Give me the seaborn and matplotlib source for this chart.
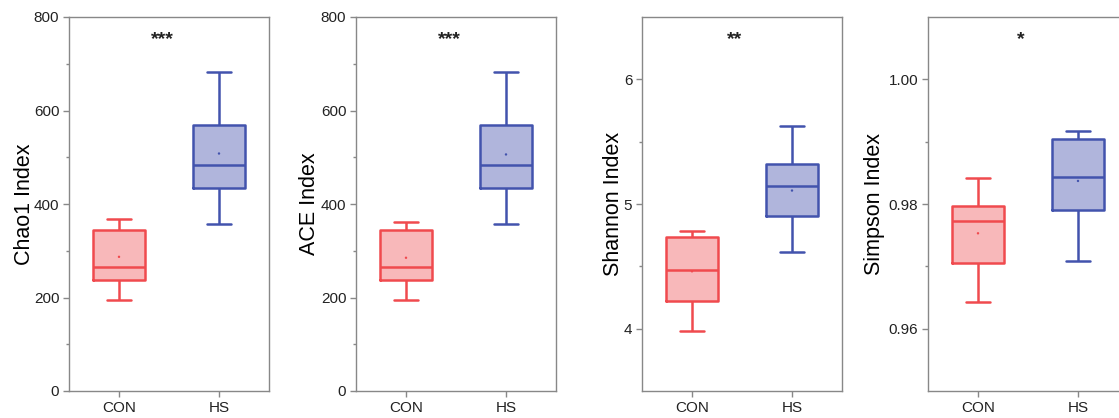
import seaborn as sns
import matplotlib.pyplot as plt
import pandas as pd

# Groups and box statistics
# each list: whisker min, Q1, median, Q3, whisker max
groups = ['CON', 'HS']

chao1_con = [194, 237, 265, 344, 367]
chao1_hs = [358, 435, 483, 570, 682]
chao1_mean = [287, 508]

ace_con = [194, 237, 265, 344, 362]
ace_hs = [358, 435, 483, 568, 683]
ace_mean = [285, 506]

shannon_con = [3.98, 4.225, 4.47, 4.736, 4.787]
shannon_hs = [4.613, 4.90, 5.143, 5.32, 5.628]
shannon_mean = [4.46, 5.108]

simpson_con = [0.9642, 0.9706, 0.9773, 0.9797, 0.9841]
simpson_hs = [0.9709, 0.9791, 0.9843, 0.9904, 0.9917]
simpson_mean = [0.9753, 0.9837]

labels = ['Chao1 Index', 'ACE Index', 'Shannon Index', 'Simpson Index']
stars = ['***', '***', '**', '*']
ylims = [(0, 800), (0, 800), (3.5, 6.5), (0.95, 1.01)]
major_ticks = [[0, 200, 400, 600, 800], [0, 200, 400, 600, 800],
               [4, 5, 6], [0.96, 0.98, 1.00]]
minor_ticks = [[100, 300, 500, 700], [100, 300, 500, 700],
               [4.5, 5.5], [0.97, 0.99]]
tick_fmt = ['{:.0f}', '{:.0f}', '{:.0f}', '{:.2f}']

edge_colors = {'CON': '#f04a4e', 'HS': '#4253ad'}
fill_colors = {'CON': '#f8b8ba', 'HS': '#b0b5dc'}

panels = [(chao1_con, chao1_hs, chao1_mean),
          (ace_con, ace_hs, ace_mean),
          (shannon_con, shannon_hs, shannon_mean),
          (simpson_con, simpson_hs, simpson_mean)]

sns.set_style('ticks')
plt.rcParams['font.family'] = ['Liberation Sans', 'DejaVu Sans']

fig = plt.figure(figsize=(11.19, 4.18), dpi=100)
W, H = 1119, 418
lefts = [69, 356, 642, 928]
label_x = [-0.17, -0.182, -0.09, -0.215]

for i, (con, hs, means) in enumerate(panels):
    ax = fig.add_axes([lefts[i] / W, 27 / H, 200 / W, 374 / H])
    df = pd.DataFrame({'group': ['CON'] * len(con) + ['HS'] * len(hs),
                       'value': con + hs})

    # filled boxes first, then the outlines on top
    sns.boxplot(data=df, x='group', y='value', hue='group', order=groups,
                palette=fill_colors, saturation=1, width=0.52, whis=(0, 100),
                linewidth=0, showcaps=False, legend=False, ax=ax)
    sns.boxplot(data=df, x='group', y='value', hue='group', order=groups,
                palette=edge_colors, saturation=1, width=0.52, whis=(0, 100),
                fill=False, linewidth=1.8, capwidths=0.24, legend=False, ax=ax)
    sns.scatterplot(x=groups, y=means, hue=groups, palette=edge_colors,
                    s=3, linewidth=0, legend=False, ax=ax, zorder=5)

    ax.set_xlim(-0.5, 1.5)
    ax.set_ylim(*ylims[i])
    ax.set_yticks(major_ticks[i])
    ax.set_yticklabels([tick_fmt[i].format(t) for t in major_ticks[i]])
    ax.set_yticks(minor_ticks[i], minor=True)
    ax.set_xlabel('')
    ax.set_ylabel(labels[i], fontsize=15.5, color='black')
    ax.yaxis.set_label_coords(label_x[i], 0.5)

    for s in ax.spines.values():
        s.set_visible(True)
        s.set_color('#888888')
        s.set_linewidth(1.0)
    ax.tick_params(axis='both', which='major', direction='out', length=4,
                   width=1, color='#888888', labelsize=11,
                   labelcolor='#222222', pad=3)
    ax.tick_params(axis='y', which='minor', direction='out', length=2.5,
                   width=1, color='#888888')
    ax.text(0.465, 0.94, stars[i], transform=ax.transAxes, ha='center',
            va='center', fontsize=14, fontweight='bold', color='#222222')

plt.savefig('out.png', dpi=100)
